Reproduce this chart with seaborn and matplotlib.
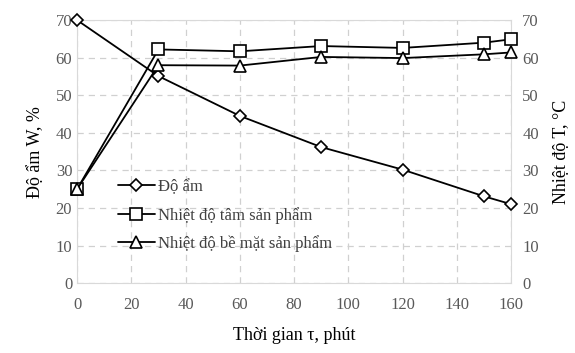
import matplotlib
matplotlib.use("Agg")
import matplotlib.pyplot as plt
import seaborn as sns
import pandas as pd

time_min = [0, 30, 60, 90, 120, 150, 160]
do_am = [70, 55.1, 44.5, 36.2, 30.2, 23.1, 21.0]
nhiet_do_tam = [25, 62.2, 61.7, 63.1, 62.6, 64.0, 64.9]
nhiet_do_be_mat = [25, 58.0, 57.9, 60.2, 59.9, 60.9, 61.4]

labels = ["Độ ẩm", "Nhiệt độ tâm sản phẩm", "Nhiệt độ bề mặt sản phẩm"]
markers = ["D", "s", "^"]
msizes = [6, 9, 8]

df = pd.DataFrame({"t": time_min, labels[0]: do_am, labels[1]: nhiet_do_tam, labels[2]: nhiet_do_be_mat})
long = df.melt(id_vars="t", var_name="series", value_name="value")

sns.set_style("white")
plt.rcParams['font.family'] = ['Liberation Serif', 'DejaVu Serif']

fig, ax = plt.subplots(figsize=(5.75, 3.53), dpi=100)
fig.subplots_adjust(left=0.134, right=0.889, bottom=0.198, top=0.943)

for lab, m, ms in zip(labels, markers, msizes):
    sns.lineplot(data=long[long.series == lab], x="t", y="value", ax=ax, color="black",
                 marker=m, markersize=ms, markerfacecolor="white", markeredgecolor="black",
                 markeredgewidth=1.2, linewidth=1.3, label=lab, clip_on=False, zorder=5)

ax.set_xlim(0, 160)
ax.set_ylim(0, 70)
ax.set_xticks(range(0, 161, 20))
ax.set_yticks(range(0, 71, 10))
ax.grid(True, color="#d0d0d0", linestyle=(0, (5, 4)), linewidth=0.9)
for s in ax.spines.values():
    s.set_color("#d9d9d9")
ax.tick_params(axis="both", colors="#595959", labelsize=12, length=0)
ax.tick_params(axis="x", pad=10)
ax.set_xlabel("Thời gian τ, phút", fontsize=13, color="black", labelpad=10)
ax.set_ylabel("Độ ẩm W, %", fontsize=13, color="black", labelpad=8)

ax2 = ax.twinx()
ax2.set_ylim(0, 70)
ax2.set_yticks(range(0, 71, 10))
ax2.tick_params(axis="y", colors="#595959", labelsize=12, length=0, pad=8)
for s in ax2.spines.values():
    s.set_visible(False)
ax2.set_ylabel("Nhiệt độ T, °C", fontsize=13, color="black", labelpad=10)
ax.set_zorder(ax2.get_zorder() + 1)
ax.patch.set_visible(False)

leg = ax.legend(loc="lower left", bbox_to_anchor=(0.06, 0.06), frameon=False, fontsize=12,
                handlelength=2.2, handletextpad=0.2, labelspacing=0.7, labelcolor="#404040")

fig.savefig("out.png", dpi=100)
